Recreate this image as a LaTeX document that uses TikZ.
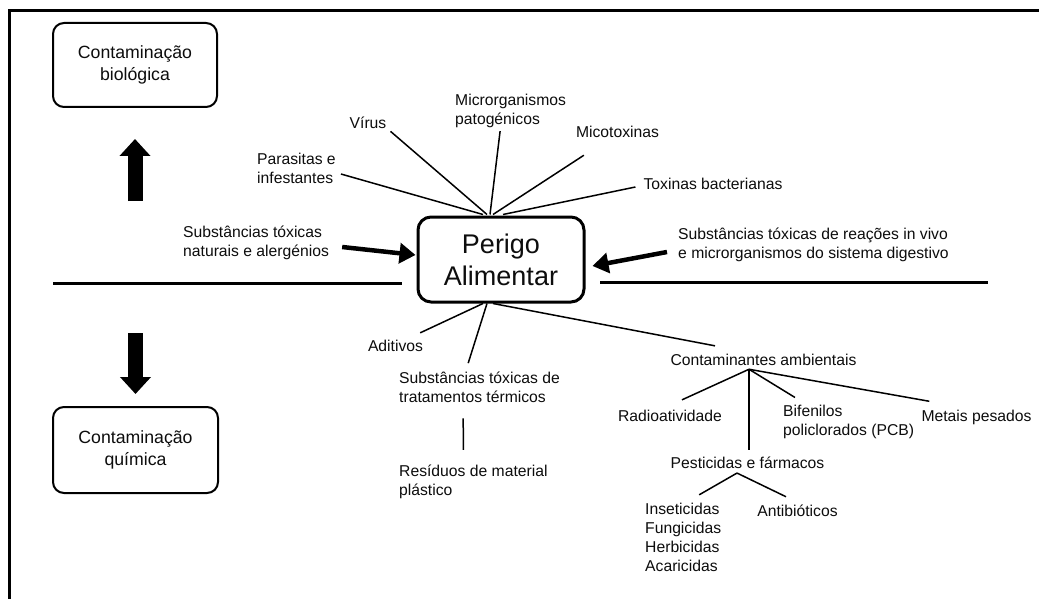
\documentclass[tikz,border=0pt]{standalone}
\usepackage{fontspec}
\setmainfont{Liberation Sans}
\usetikzlibrary{arrows.meta}
\begin{document}
\begin{tikzpicture}[x=1pt,y=-1pt,
  lbl/.style={font=\fontsize{15.7}{19}\selectfont, inner sep=1pt, text=black!95},
  lblL/.style={lbl, align=left, anchor=west},
  box/.style={draw, rounded corners=11pt, line width=2pt, minimum width=164pt,
    minimum height=84pt, align=center, inner sep=0pt, text=black!95,
    font=\fontsize{17.7}{21.5}\selectfont},
  bigbox/.style={box, line width=3pt, minimum width=166pt, minimum height=85pt,
    rounded corners=13pt, font=\fontsize{27}{32}\selectfont},
  spoke/.style={line width=1.5pt},
  blockarrow/.style={line width=15pt, -{Triangle[length=17pt,width=30pt]}},
  pusharrow/.style={line width=4.5pt, -{Triangle[length=16pt,width=20pt]}},
  divider/.style={line width=3pt},
  frameline/.style={line width=3pt}]

\useasboundingbox (0,0) rectangle (1039,599);
\fill[white] (0,0) rectangle (1039,599);

% outer frame: only its top and left edges fall inside the page
\draw[frameline] (9,602) -- (9,11) -- (1042,11);

% the three boxes
\node[box] (bio) at (135,65) {Contaminação\\biológica};
\node[box, minimum width=165pt, minimum height=86pt] (quim) at (135.5,450) {Contaminação\\química};
\node[bigbox] (perigo) at (501,259.5) {Perigo\\Alimentar};

% block arrows towards the two kinds of contamination
\coordinate (upfoot) at (135,201);
\coordinate (downtop) at (135.5,333);
\draw[blockarrow] (upfoot) -- ([yshift=-31pt]bio.south);
\draw[blockarrow] (downtop) -- ([yshift=12pt]quim.north);

% dividing line between biological and chemical hazards
\draw[divider] (53,283) -- (402,283);
\draw[divider] (600,282) -- (988,282);

% biological hazards
\node[lblL] (parasitas) at (256,168.5) {Parasitas e\\infestantes};
\node[lbl] (virus) at (368,122.3) {Vírus};
\node[lblL] (micro) at (454,111.4) {Microrganismos\\patogénicos};
\node[lbl] (mico) at (617.5,132.3) {Micotoxinas};
\node[lbl] (toxinas) at (713,184.3) {Toxinas bacterianas};

\draw[spoke] ([xshift=4pt,yshift=-5.5pt]parasitas.east) -- ([xshift=-18pt,yshift=1pt]perigo.north);
\draw[spoke] ([xshift=3pt,yshift=-2pt]virus.south east) -- ([xshift=-14pt,yshift=1pt]perigo.north);
\draw[spoke] ([xshift=-10.5pt,yshift=-1.7pt]micro.south) -- ([xshift=-11pt,yshift=1pt]perigo.north);
\draw[spoke] ([xshift=9pt,yshift=-16pt]mico.south west) -- ([xshift=-8pt,yshift=1pt]perigo.north);
\draw[spoke] ([xshift=-7pt,yshift=-2.7pt]toxinas.west) -- ([xshift=2pt,yshift=1pt]perigo.north);

% toxic substances pushing into the central box
\node[lblL] (subnat) at (182,242.7) {Substâncias tóxicas\\naturais e alergénios};
\node[lblL] (subvivo) at (677,245.2) {Substâncias tóxicas de reações in vivo\\e microrganismos do sistema digestivo};
\draw[pusharrow] ([xshift=12pt,yshift=-4.3pt]subnat.east) -- ([xshift=-1pt,yshift=4.5pt]perigo.west);
\draw[pusharrow] ([xshift=-10pt,yshift=-6.8pt]subvivo.west) -- ([xshift=7pt,yshift=-6.5pt]perigo.east);

% chemical hazards
\node[lbl] (aditivos) at (395.5,346.3) {Aditivos};
\node[lblL] (subterm) at (398,387.7) {Substâncias tóxicas de\\tratamentos térmicos};
\node[lblL] (residuos) at (398,482) {Resíduos de material\\plástico};
\node[lbl] (contamb) at (763.5,360.3) {Contaminantes ambientais};

\draw[spoke] ([xshift=-4pt,yshift=6.5pt]aditivos.north east) -- ([xshift=-18pt]perigo.south);
\draw[spoke] ([xshift=-11.3pt,yshift=8pt]subterm.north) -- ([xshift=-14pt]perigo.south);
\draw[spoke] ([xshift=-48.5pt,yshift=7.5pt]contamb.north) -- ([xshift=-8pt]perigo.south);
\draw[spoke] ([xshift=-16.3pt,yshift=-14pt]subterm.south) -- ([xshift=-10pt,yshift=14pt]residuos.north);

% environmental contaminants
\node[lbl] (radio) at (670,416.3) {Radioatividade};
\node[lblL] (bifen) at (782,422) {Bifenilos\\policlorados (PCB)};
\node[lbl] (metais) at (976.5,417.3) {Metais pesados};
\node[lbl] (pest) at (747.5,463) {Pesticidas e fármacos};

\draw[spoke] ([xshift=-14.5pt,yshift=-2pt]contamb.south) -- ([xshift=12pt,yshift=9.5pt]radio.north);
\draw[spoke] ([xshift=-14.5pt,yshift=-2pt]contamb.south) -- ([xshift=1.5pt,yshift=6pt]pest.north);
\draw[spoke] ([xshift=-14.5pt,yshift=-2pt]contamb.south) -- ([xshift=13pt,yshift=6.5pt]bifen.north west);
\draw[spoke] ([xshift=-14.5pt,yshift=-2pt]contamb.south) -- ([xshift=9pt,yshift=7.5pt]metais.north west);

% pesticides and pharmaceuticals
\node[lblL] (insect) at (644,537.8) {Inseticidas\\Fungicidas\\Herbicidas\\Acaricidas};
\node[lbl] (antib) at (797.5,510.3) {Antibióticos};

\draw[spoke] ([xshift=-10.5pt,yshift=-3pt]pest.south) -- ([xshift=16pt,yshift=7.5pt]insect.north);
\draw[spoke] ([xshift=-10.5pt,yshift=-3pt]pest.south) -- ([xshift=-11.5pt,yshift=6.5pt]antib.north);

\end{tikzpicture}
\end{document}
